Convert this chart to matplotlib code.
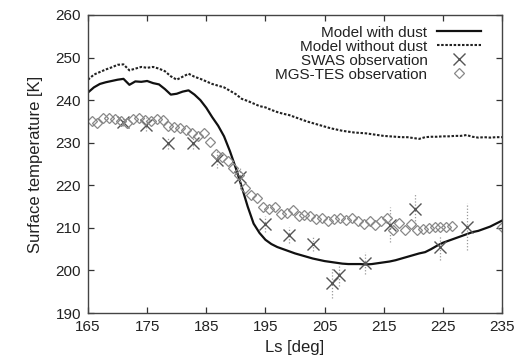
import matplotlib
matplotlib.use("Agg")
import matplotlib.pyplot as plt

plt.rcParams['font.family'] = ['Liberation Sans', 'DejaVu Sans']

# model curves, 1 deg steps
ls_model = list(range(165, 236))
t_dust = [241.8, 243.0, 243.8, 244.2, 244.5, 244.8, 245.0, 243.6, 244.4, 244.3,
          244.5, 244.0, 243.7, 242.6, 241.3, 241.5, 242.0, 242.3, 241.3, 240.0,
          238.2, 236.0, 234.0, 231.5, 228.0, 224.0, 219.6, 215.0, 211.0, 208.8,
          207.2, 206.2, 205.5, 205.0, 204.5, 204.0, 203.6, 203.2, 202.8, 202.5,
          202.2, 202.0, 201.8, 201.6, 201.5, 201.5, 201.5, 201.4, 201.5, 201.7,
          201.9, 202.1, 202.4, 202.8, 203.2, 203.6, 204.0, 204.3, 205.0, 205.8,
          206.5, 207.0, 207.5, 208.0, 208.5, 209.0, 209.3, 209.8, 210.3, 211.0,
          211.7]
t_nodust = [244.8, 246.0, 246.6, 247.2, 247.7, 248.3, 248.4, 247.0, 247.4, 247.8,
            247.6, 247.8, 247.4, 246.8, 245.6, 244.8, 245.5, 246.2, 245.5, 245.0,
            244.4, 243.8, 243.4, 243.0, 242.2, 241.4, 240.3, 239.8, 239.2, 238.6,
            238.3, 237.7, 237.2, 236.8, 236.5, 236.0, 235.5, 235.0, 234.6, 234.2,
            233.8, 233.4, 233.1, 232.8, 232.6, 232.4, 232.3, 232.2, 232.0, 231.8,
            231.6, 231.5, 231.4, 231.3, 231.3, 231.1, 230.9, 231.3, 231.4, 231.4,
            231.5, 231.5, 231.6, 231.6, 231.8, 231.4, 231.2, 231.3, 231.2, 231.3,
            231.3]

# SWAS observations
ls_swas = [171.0, 174.8, 178.6, 182.7, 186.8, 190.7, 194.9, 198.9, 203.1, 206.2,
           207.5, 211.8, 216.0, 220.3, 224.5, 229.0]
t_swas = [234.9, 234.2, 230.0, 230.0, 226.0, 222.0, 210.9, 208.3, 206.3, 197.1,
          198.9, 201.8, 210.7, 214.4, 205.4, 210.3]
err_swas = [1.0, 1.5, 1.4, 1.5, 2.0, 2.0, 1.8, 1.8, 1.8, 3.5,
            2.5, 2.6, 4.1, 3.5, 3.0, 5.5]

# MGS-TES observations
ls_tes = [165.6 + i for i in range(62)] + [235.0]
t_tes = [235.2, 234.6, 235.9, 235.8, 235.5, 235.2, 234.7, 235.5, 235.7, 235.3,
         235.1, 235.5, 235.4, 234.0, 233.6, 233.4, 233.0, 232.2, 231.6, 232.2,
         230.2, 227.3, 226.7, 225.7, 224.0, 222.4, 219.3, 217.7, 217.0, 215.0,
         214.4, 214.9, 213.2, 213.6, 214.2, 212.8, 213.1, 212.8, 212.0, 212.4,
         211.7, 212.0, 212.2, 211.8, 212.3, 211.6, 210.9, 211.7, 210.7, 211.5,
         212.3, 209.5, 211.1, 209.5, 210.9, 209.5, 209.7, 209.9, 210.1, 210.3,
         210.1, 210.5, 210.3]

fig = plt.figure(figsize=(5.22, 3.63), dpi=100)
ax = fig.add_axes([0.1686, 0.1377, 0.7931, 0.821])

ax.plot(ls_model, t_dust, color='#111111', lw=1.6, label='Model with dust')
ax.plot(ls_model, t_nodust, color='#222222', lw=1.5, linestyle=(0, (1.2, 0.8)),
        label='Model without dust')
eb = ax.errorbar(ls_swas, t_swas, yerr=err_swas, fmt='none', ecolor='#999999',
                 elinewidth=0.9, capsize=0)
eb[2][0].set_linestyle((0, (1, 1.5)))
ax.plot(ls_swas, t_swas, 'x', color='#555555', ms=8, mew=1.0, linestyle='none',
        label='SWAS observation')
ax.plot(ls_tes, t_tes, 'D', mfc='none', mec='#888888', ms=5, mew=0.9,
        linestyle='none', label='MGS-TES observation')

ax.set_xlim(165, 235)
ax.set_ylim(190, 260)
ax.set_xticks(range(165, 236, 10))
ax.set_yticks(range(190, 261, 10))
ax.tick_params(direction='in', top=True, right=True, length=4, width=0.9,
               labelsize=11, colors='#333333', labelcolor='#222222', pad=5)
for s in ax.spines.values():
    s.set_color('#444444')
    s.set_linewidth(1.0)

ax.set_xlabel('Ls [deg]', fontsize=12, color='#222222', labelpad=4)
ax.set_ylabel('Surface temperature [K]', fontsize=12, color='#222222', labelpad=9)

leg = ax.legend(loc='upper right', frameon=False, markerfirst=False, fontsize=11,
                handlelength=2.9, handletextpad=0.6, labelspacing=0.0,
                borderaxespad=0.3, bbox_to_anchor=(0.975, 1.0))
for t in leg.get_texts():
    t.set_color('#222222')

fig.savefig('out.png', dpi=100)
